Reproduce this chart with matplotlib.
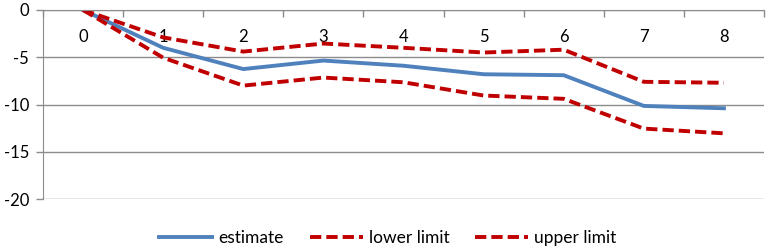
import matplotlib
matplotlib.use("Agg")
import matplotlib.pyplot as plt

plt.rcParams['font.family'] = ['Lato', 'DejaVu Sans']

# data
steps = [0, 1, 2, 3, 4, 5, 6, 7, 8]
estimate = [0, -4.0, -6.25, -5.35, -5.9, -6.8, -6.9, -10.15, -10.4]
lower_limit = [0, -2.9, -4.4, -3.55, -4.0, -4.5, -4.2, -7.6, -7.7]
upper_limit = [0, -5.05, -8.0, -7.15, -7.65, -9.05, -9.4, -12.55, -13.05]
yticks = [-20, -15, -10, -5, 0]

blue = '#4F81BD'
red = '#C00000'
grey = '#8C8C8C'

fig = plt.figure(figsize=(7.76, 2.5), dpi=100)
ax = fig.add_axes([43 / 776, 1 - 199 / 250, (764 - 43) / 776, (199 - 10) / 250])

lw = 2.8
ax.plot(steps, estimate, color=blue, lw=lw, label='estimate')
ax.plot(steps, lower_limit, color=red, lw=lw, dashes=(2.9, 1.3), label='lower limit')
ax.plot(steps, upper_limit, color=red, lw=lw, dashes=(2.9, 1.3), label='upper limit')

ax.set_xlim(-0.5, 8.5)
ax.set_ylim(-20, 0)

# y axis
ax.set_yticks(yticks)
ax.set_yticklabels([str(v) for v in yticks])
ax.tick_params(axis='y', length=5, width=1, color=grey, labelsize=12, pad=5)
ax.grid(axis='y', color=grey, lw=1)
ax.set_axisbelow(True)

# x axis sits at y=0 (top of plot)
ax.spines['bottom'].set_position(('data', 0))
ax.spines['bottom'].set_color(grey)
ax.spines['left'].set_color(grey)
ax.spines['top'].set_visible(False)
ax.spines['right'].set_visible(False)
ax.set_xticks(steps)
ax.set_xticklabels([str(s) for s in steps])
ax.set_xticks([s - 0.5 for s in steps] + [8.5], minor=True)
ax.tick_params(axis='x', which='major', length=0, labelsize=12, pad=14)
ax.tick_params(axis='x', which='minor', direction='out', length=5, width=1, color=grey)

fig.legend(loc='center', bbox_to_anchor=(0.5, 0.048), ncol=3, frameon=False,
           fontsize=12.5, handlelength=3.05, columnspacing=1.5, handletextpad=0.35)

fig.savefig('out.png', dpi=100)
